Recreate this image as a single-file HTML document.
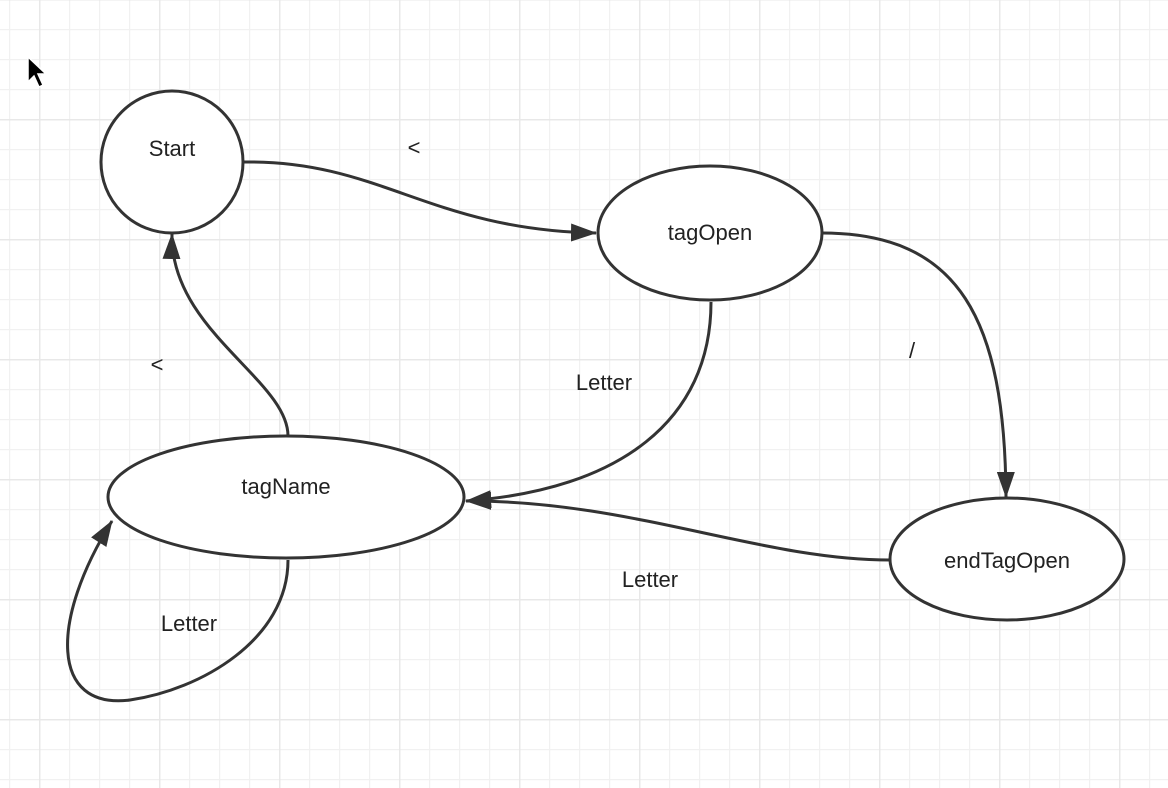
<!DOCTYPE html>
<html><head><style>
html,body{margin:0;padding:0;background:#fff;}
svg{display:block;}
text{font-family:"Liberation Sans",sans-serif;font-size:22px;fill:#222;}
</style></head><body>
<svg width="1168" height="788" viewBox="0 0 1168 788">
<defs>
<pattern id="g" x="9" y="29" width="30" height="30" patternUnits="userSpaceOnUse">
<path d="M0.5 0V30M0 0.5H30" stroke="#f1f1f1" stroke-width="1.5" fill="none"/>
</pattern>
<pattern id="G" x="39" y="119" width="120" height="120" patternUnits="userSpaceOnUse">
<path d="M0.5 0V120M0 0.5H120" stroke="#e8e8e8" stroke-width="2" fill="none"/>
</pattern>
<marker id="b" markerWidth="26" markerHeight="18" refX="25" refY="9" orient="auto" markerUnits="userSpaceOnUse" viewBox="0 0 26 18">
<path d="M0,0L26,9L0,18Z" fill="#333"/>
</marker>
</defs>
<rect width="1168" height="788" fill="#fff"/>
<rect width="1168" height="788" fill="url(#g)"/>
<rect width="1168" height="788" fill="url(#G)"/>
<g fill="none" stroke="#333" stroke-width="3">
<path d="M244,162 C380,160 430,230 596,233" marker-end="url(#b)"/>
<path d="M822,233 C960,233 1005,320 1006,497" marker-end="url(#b)"/>
<path d="M711,302 C711,420 620,490 466,501" marker-end="url(#b)"/>
<path d="M890,560 C760,560 630,500 466,501" marker-end="url(#b)"/>
<path d="M288,436 C288,380 170,330 172,234" marker-end="url(#b)"/>
<path d="M288,560 C288,640 200,690 130,700 C50,710 50,620 112,521" marker-end="url(#b)"/>
</g>
<g fill="#fff" stroke="#333" stroke-width="3">
<circle cx="172" cy="162" r="71"/>
<ellipse cx="710" cy="233" rx="112" ry="67"/>
<ellipse cx="286" cy="497" rx="178" ry="61"/>
<ellipse cx="1007" cy="559" rx="117" ry="61"/>
</g>
<g text-anchor="middle">
<text x="172" y="156">Start</text>
<text x="710" y="240">tagOpen</text>
<text x="286" y="494">tagName</text>
<text x="1007" y="568">endTagOpen</text>
<text x="414" y="155">&lt;</text>
<text x="912" y="358">/</text>
<text x="604" y="390">Letter</text>
<text x="650" y="587">Letter</text>
<text x="157" y="372">&lt;</text>
<text x="189" y="631">Letter</text>
</g>
<path d="M28,57 L28,82 L34,76 L39,87 L43,85 L38,74 L46,74 Z" fill="#000" stroke="#fff" stroke-width="1.5"/>
</svg>
</body></html>
